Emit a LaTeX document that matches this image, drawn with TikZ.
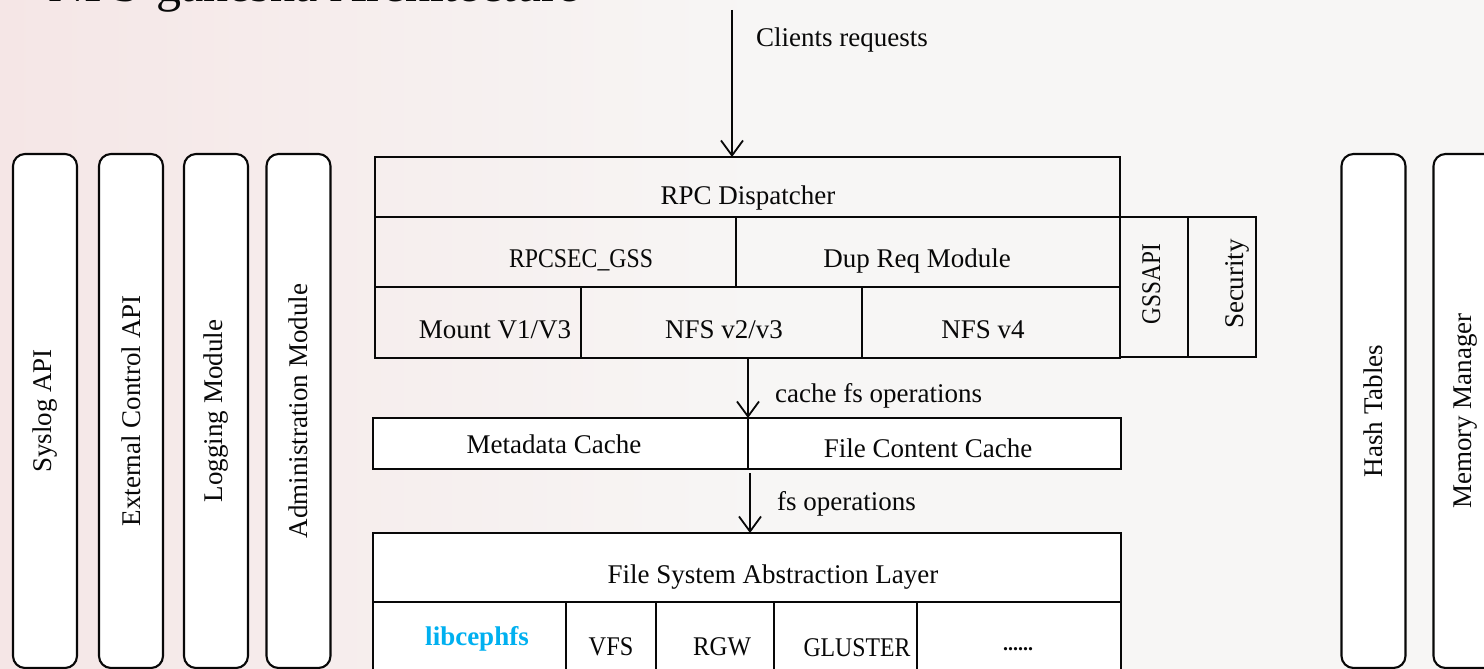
\documentclass[tikz,border=0pt]{standalone}
\usepackage{fontspec}
\setmainfont{Liberation Serif}
\usetikzlibrary{arrows.meta}
\definecolor{bgL}{RGB}{245,230,230}
\definecolor{bgR}{RGB}{247,246,245}
\definecolor{cephblue}{RGB}{0,176,240}
\definecolor{ink}{RGB}{8,8,8}
\newcommand\lblfont{\fontsize{27}{32}\selectfont}
\newcommand\narrow[2]{\scalebox{#1}[1]{#2}}
\newcommand\cellnode[6]{\node[cellbox,#6,minimum width={(#4-#2)*1pt},minimum height={(#5-#3)*1pt}] (#1) at ({(#2+#4)/2},{(#3+#5)/2}) {};}
\begin{document}
\begin{tikzpicture}[x=1pt,y=-1pt,
  cellbox/.style={draw=ink, line width=2.1pt, inner sep=0pt, outer sep=0pt, rectangle},
  side/.style={draw=ink, line width=2.1pt, fill=white, rounded corners=12pt, inner sep=0pt, outer sep=0pt, font=\lblfont, text=ink, rotate=90, minimum width=514pt, minimum height=64pt},
  lbl/.style={font=\lblfont, text=ink, inner sep=0pt},
  arr/.style={draw=ink, line width=1.8pt, -{Straight Barb[length=15pt,width=22pt]}}]
\useasboundingbox (0,0) rectangle (1484,669);
\clip (0,0) rectangle (1484,669);
% background
\shade[left color=bgL, right color=bgR] (0,0) rectangle (760,669);
\fill[bgR] (760,0) rectangle (1484,669);
% title (cut off at the top, as in the reference)
\node[anchor=base west, inner sep=0pt, font=\fontsize{50}{56}\selectfont, text=ink] (title) at (48,2) {NFS-ganesha Architecture};
% side boxes
\node[side] (syslog) at (45,411) {Syslog API};
\node[side] (extapi) at (131,411) {External Control API};
\node[side] (logmod) at (216,411) {Logging Module};
\node[side] (admmod) at (298.5,411) {Administration Module};
\node[side] (hash) at (1373.5,411) {Hash Tables};
\node[side] (memmgr) at (1465.5,411) {Memory Manager};
% upper block
\cellnode{rpc}{375}{157}{1120}{217}{}
\cellnode{rpcsec}{375}{217}{736}{287}{}
\cellnode{dup}{736}{217}{1120}{287}{}
\cellnode{mount}{375}{287}{581}{358}{}
\cellnode{nfsa}{581}{287}{862}{358}{}
\cellnode{nfsb}{862}{287}{1120}{358}{}
\cellnode{gss}{1120}{217}{1188}{357}{}
\cellnode{sec}{1188}{217}{1256}{357}{}
% cache
\cellnode{meta}{373}{418}{748}{469}{fill=white}
\cellnode{fcc}{748}{418}{1121}{469}{fill=white}
% FSAL
\cellnode{fsal}{373}{533}{1121}{602}{fill=white}
\cellnode{ceph}{373}{602}{566}{690}{fill=white}
\cellnode{vfs}{566}{602}{656}{690}{fill=white}
\cellnode{rgw}{656}{602}{774}{690}{fill=white}
\cellnode{glu}{774}{602}{917}{690}{fill=white}
\cellnode{more}{917}{602}{1121}{690}{fill=white}
% texts
\node[lbl,anchor=base] (trpc) at (748,204) {RPC Dispatcher};
\node[lbl,anchor=base] (trpcsec) at (581,267) {\narrow{0.88}{RPCSEC\_GSS}};
\node[lbl,anchor=base] (tdup) at (917,267) {Dup Req Module};
\node[lbl,anchor=base] (tmount) at (495,338) {Mount V1/V3};
\node[lbl,anchor=base] (tnfsa) at (724,338) {NFS v2/v3};
\node[lbl,anchor=base] (tnfsb) at (983,338) {NFS v4};
\node[lbl,anchor=base,rotate=90] (tgss) at (1160,284) {\narrow{0.86}{GSSAPI}};
\node[lbl,anchor=base,rotate=90] (tsec) at (1243,284) {Security};
\node[lbl,anchor=base] (tmeta) at (554,453) {Metadata Cache};
\node[lbl,anchor=base] (tfcc) at (928,457) {File Content Cache};
\node[lbl,anchor=base] (tfsal) at (773,583) {File System Abstraction Layer};
\node[lbl,anchor=base,font=\lblfont\bfseries,text=cephblue] (tceph) at (477,645) {libcephfs};
\node[lbl,anchor=base] (tvfs) at (611,655) {\narrow{0.9}{VFS}};
\node[lbl,anchor=base] (trgw) at (722,655) {\narrow{0.92}{RGW}};
\node[lbl,anchor=base] (tglu) at (857,656) {\narrow{0.88}{GLUSTER}};
\node[lbl,anchor=base,font=\fontsize{20}{24}\selectfont\bfseries] (tmore) at (1018,650) {......};
% connector labels
\node[lbl,anchor=base west] (tcr) at (756,47) {Clients requests};
\node[lbl,anchor=base west] (tcfs) at (775,402) {cache fs operations};
\node[lbl,anchor=base west] (tfs) at (777,510) {fs operations};
% arrows
\coordinate (src) at (732,10);
\draw[arr] (src) -- (src |- rpc.north);
\draw[arr] (meta.north east |- nfsa.south) -- (meta.north east);
\coordinate (fsstart) at (750,473);
\draw[arr] (fsstart) -- (fsstart |- fsal.north);
\end{tikzpicture}
\end{document}
